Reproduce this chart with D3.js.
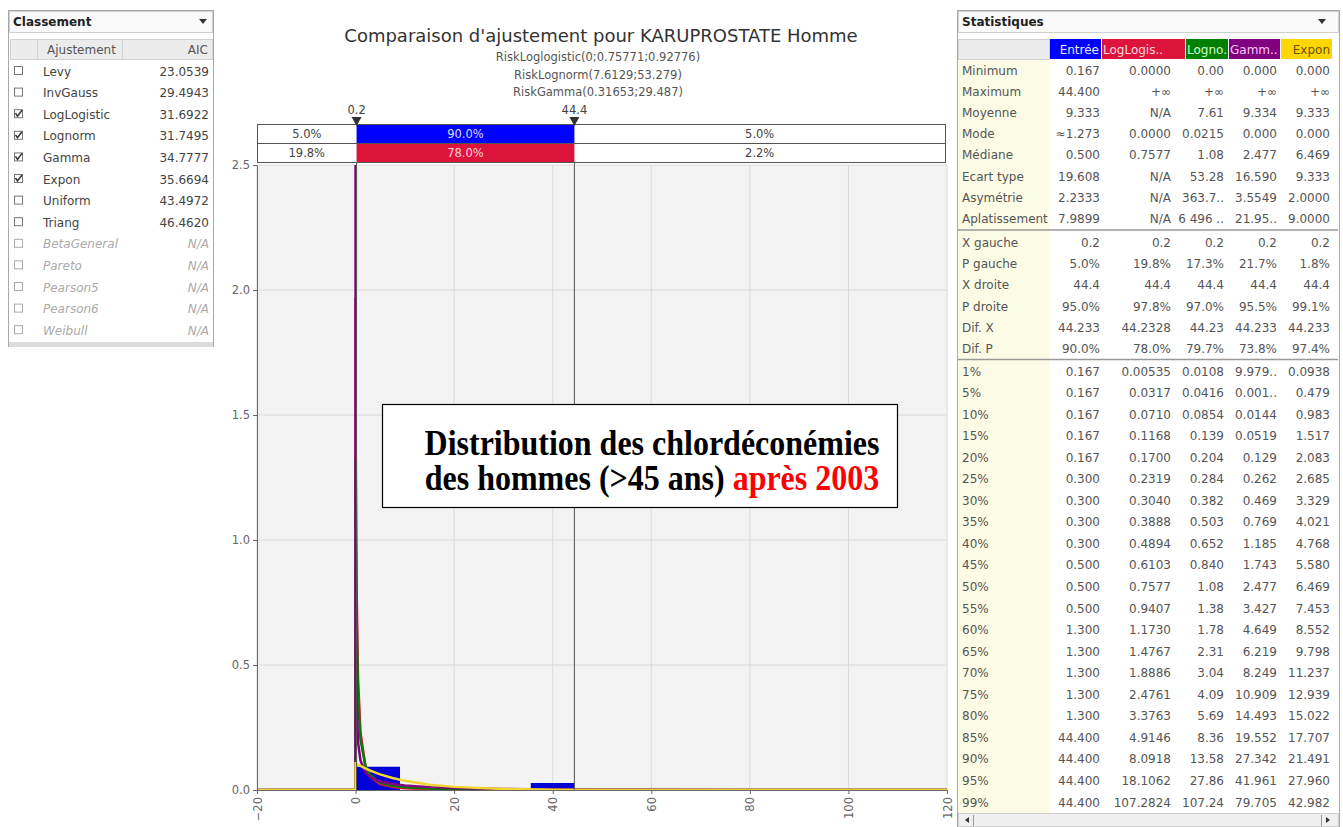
<!DOCTYPE html>
<html>
<head>
<meta charset="utf-8">
<script src="https://cdn.jsdelivr.net/npm/d3@7"></script>
<style>
  body { margin: 0; background: #fff; }
  svg { display: block; }
  text { font-family: "DejaVu Sans", sans-serif; }
  text.note { font-family: "Liberation Serif", "Times New Roman", serif; }
</style>
</head>
<body>
<div id="chart"></div>
<script>
// ---------------------------------------------------------------
// Values
// ---------------------------------------------------------------

// Left panel: ranking of the fitted distributions
var fitNames = ["Levy", "InvGauss", "LogLogistic", "Lognorm", "Gamma", "Expon", "Uniform",
                "Triang", "BetaGeneral", "Pareto", "Pearson5", "Pearson6", "Weibull"];
var fitAIC = ["23.0539", "29.4943", "31.6922", "31.7495", "34.7777", "35.6694", "43.4972",
              "46.4620", "N/A", "N/A", "N/A", "N/A", "N/A"];
var fitChecked = [false, false, true, true, true, true, false, false, false, false, false, false, false];
var fitValid = [true, true, true, true, true, true, true, true, false, false, false, false, false];

// Chart titles
var chartTitle = "Comparaison d'ajustement pour KARUPROSTATE Homme";
var chartSubtitles = ["RiskLoglogistic(0;0.75771;0.92776)", "RiskLognorm(7.6129;53.279)", "RiskGamma(0.31653;29.487)"];

// Delimiters and the probabilities between them
var delimLeft = 0.2;
var delimRight = 44.4;
var inputPct = ["5.0%", "90.0%", "5.0%"];
var fitPct = ["19.8%", "78.0%", "2.2%"];

// Axis ticks
var xTicks = [-20, 0, 20, 40, 60, 80, 100, 120];
var yTicks = [0, 0.5, 1.0, 1.5, 2.0, 2.5];

// Histogram of the input data (density)
var histEdges = [0.167, 9.013, 17.860, 26.707, 35.553, 44.4];
var histDensity = [0.093, 0, 0, 0, 0.028];

// Fitted densities at these x positions
var curveX = [-20, 0, 0.001, 0.005, 0.01, 0.02, 0.05, 0.1, 0.2, 0.5, 1, 2, 3, 5, 7.5, 10,
              15, 20, 30, 40, 60, 80, 100, 120];
var loglogisticY = [0, 0, 1.97, 1.73, 1.62, 1.49, 1.28, 1.07, 0.81, 0.447, 0.228, 0.0953, 0.0527,
                    0.0234, 0.0118, 0.0071, 0.0034, 0.002, 0.00096, 0.00056, 0.00026, 0.00015, 0.0001, 0.00007];
var lognormY = [0, 0, 0.397, 1.008, 1.228, 1.323, 1.21, 0.98, 0.702, 0.374, 0.2016, 0.096, 0.0588,
                0.0298, 0.0166, 0.0107, 0.0055, 0.0034, 0.0016, 0.00095, 0.00043, 0.00024, 0.00015, 0.0001];
var gammaY = [0, 0, 13.6, 4.52, 2.82, 1.755, 0.937, 0.584, 0.363, 0.191, 0.117, 0.0705, 0.0516,
              0.034, 0.0237, 0.0179, 0.0115, 0.0079, 0.0043, 0.0025, 0.00097, 0.0004, 0.00018, 0.00008];
var exponY = [0, 0, 0.107, 0.107, 0.107, 0.107, 0.107, 0.106, 0.105, 0.1015, 0.0962, 0.0863, 0.0775,
              0.0626, 0.0481, 0.0366, 0.0214, 0.0125, 0.0043, 0.0015, 0.00017, 0.00002, 0, 0];

// Annotation box
var noteLine1 = "Distribution des chlordéconémies";
var noteLine2a = "des hommes (>45 ans) ";
var noteLine2b = "après 2003";

// Right panel: statistics table
var statCols = ["Entrée", "LogLogis..", "Logno..", "Gamm..", "Expon"];
var statLabels = ["Minimum", "Maximum", "Moyenne", "Mode", "Médiane", "Ecart type", "Asymétrie", "Aplatissement"];
var statValues = [
  ["0.167", "0.0000", "0.00", "0.000", "0.000"],
  ["44.400", "+∞", "+∞", "+∞", "+∞"],
  ["9.333", "N/A", "7.61", "9.334", "9.333"],
  ["≈1.273", "0.0000", "0.0215", "0.000", "0.000"],
  ["0.500", "0.7577", "1.08", "2.477", "6.469"],
  ["19.608", "N/A", "53.28", "16.590", "9.333"],
  ["2.2333", "N/A", "363.7..", "3.5549", "2.0000"],
  ["7.9899", "N/A", "6 496 ..", "21.95..", "9.0000"]
];
var delimLabels = ["X gauche", "P gauche", "X droite", "P droite", "Dif. X", "Dif. P"];
var delimValues = [
  ["0.2", "0.2", "0.2", "0.2", "0.2"],
  ["5.0%", "19.8%", "17.3%", "21.7%", "1.8%"],
  ["44.4", "44.4", "44.4", "44.4", "44.4"],
  ["95.0%", "97.8%", "97.0%", "95.5%", "99.1%"],
  ["44.233", "44.2328", "44.23", "44.233", "44.233"],
  ["90.0%", "78.0%", "79.7%", "73.8%", "97.4%"]
];
var pctLabels = ["1%", "5%", "10%", "15%", "20%", "25%", "30%", "35%", "40%", "45%", "50%",
                 "55%", "60%", "65%", "70%", "75%", "80%", "85%", "90%", "95%", "99%"];
var pctValues = [
  ["0.167", "0.00535", "0.0108", "9.979..", "0.0938"],
  ["0.167", "0.0317", "0.0416", "0.001..", "0.479"],
  ["0.167", "0.0710", "0.0854", "0.0144", "0.983"],
  ["0.167", "0.1168", "0.139", "0.0519", "1.517"],
  ["0.167", "0.1700", "0.204", "0.129", "2.083"],
  ["0.300", "0.2319", "0.284", "0.262", "2.685"],
  ["0.300", "0.3040", "0.382", "0.469", "3.329"],
  ["0.300", "0.3888", "0.503", "0.769", "4.021"],
  ["0.300", "0.4894", "0.652", "1.185", "4.768"],
  ["0.500", "0.6103", "0.840", "1.743", "5.580"],
  ["0.500", "0.7577", "1.08", "2.477", "6.469"],
  ["0.500", "0.9407", "1.38", "3.427", "7.453"],
  ["1.300", "1.1730", "1.78", "4.649", "8.552"],
  ["1.300", "1.4767", "2.31", "6.219", "9.798"],
  ["1.300", "1.8886", "3.04", "8.249", "11.237"],
  ["1.300", "2.4761", "4.09", "10.909", "12.939"],
  ["1.300", "3.3763", "5.69", "14.493", "15.022"],
  ["44.400", "4.9146", "8.36", "19.552", "17.707"],
  ["44.400", "8.0918", "13.58", "27.342", "21.491"],
  ["44.400", "18.1062", "27.86", "41.961", "27.960"],
  ["44.400", "107.2824", "107.24", "79.705", "42.982"]
];

// ---------------------------------------------------------------
// Drawing
// ---------------------------------------------------------------
var svgWidth = 1343;
var svgHeight = 827;

var svg = d3.select("#chart").append("svg")
  .attr("width", svgWidth)
  .attr("height", svgHeight);

svg.append("rect")
  .attr("width", svgWidth)
  .attr("height", svgHeight)
  .attr("fill", "#fff");

// Small helper for the little dropdown arrows in the panel headers
function dropArrow(g, cx, cy) {
  g.append("path")
    .attr("d", `M${cx - 4},${cy - 2} L${cx + 4},${cy - 2} L${cx},${cy + 3} Z`)
    .attr("fill", "#333");
}

// ---------------- Left panel (Classement) ----------------
var left = svg.append("g");

left.append("rect")
  .attr("x", 8.5).attr("y", 10.5)
  .attr("width", 205).attr("height", 336)
  .attr("fill", "#fff")
  .attr("stroke", "#a8a8a8");

left.append("rect")
  .attr("x", 9.5).attr("y", 11.5)
  .attr("width", 203).attr("height", 21)
  .attr("fill", "#fafafa")
  .attr("stroke", "#cfcfcf");

left.append("text")
  .attr("x", 13).attr("y", 26)
  .attr("font-size", 12)
  .attr("font-weight", "bold")
  .attr("fill", "#222")
  .text("Classement");

dropArrow(left, 203, 21);

// column header cells
[[10, 37], [37, 122], [122, 212]].forEach(function(c) {
  left.append("rect")
    .attr("x", c[0] + 0.5).attr("y", 39.5)
    .attr("width", c[1] - c[0]).attr("height", 20)
    .attr("fill", "#ececec")
    .attr("stroke", "#d2d2d2");
});

left.append("text")
  .attr("x", 47).attr("y", 54)
  .attr("font-size", 12)
  .attr("fill", "#555")
  .text("Ajustement");

left.append("text")
  .attr("x", 208).attr("y", 54)
  .attr("font-size", 12)
  .attr("text-anchor", "end")
  .attr("fill", "#555")
  .text("AIC");

var fitRows = left.selectAll(".fitRow")
  .data(fitNames)
  .enter()
  .append("g")
  .classed("fitRow", true)
  .attr("transform", (d, i) => `translate(0, ${71 + i * 21.6})`);

fitRows.append("rect")
  .attr("x", 14.5).attr("y", -4.5)
  .attr("width", 8).attr("height", 8)
  .attr("fill", "#fff")
  .attr("stroke", (d, i) => fitValid[i] ? "#777" : "#aaa");

fitRows.filter((d, i) => fitChecked[i])
  .append("path")
  .attr("d", "M15.5,-1 L17.5,2 L22,-4")
  .attr("fill", "none")
  .attr("stroke", "#333")
  .attr("stroke-width", 1.5);

fitRows.append("text")
  .attr("x", 43).attr("y", 4.5)
  .attr("font-size", 12)
  .attr("font-style", (d, i) => fitValid[i] ? "normal" : "italic")
  .attr("fill", (d, i) => fitValid[i] ? "#444" : "#aaa")
  .text(d => d);

fitRows.append("text")
  .attr("x", 209).attr("y", 4.5)
  .attr("font-size", 12)
  .attr("text-anchor", "end")
  .attr("font-style", (d, i) => fitValid[i] ? "normal" : "italic")
  .attr("fill", (d, i) => fitValid[i] ? "#444" : "#aaa")
  .text((d, i) => fitAIC[i]);

left.append("rect")
  .attr("x", 9).attr("y", 342)
  .attr("width", 204).attr("height", 5)
  .attr("fill", "#dcdcdc");

// ---------------- Chart ----------------
var chart = svg.append("g");

var x = d3.scaleLinear().domain([-20, 120]).range([257, 947]);
var y = d3.scaleLinear().domain([0, 2.5]).range([790, 165]);

// titles
chart.append("text")
  .attr("x", 601).attr("y", 42)
  .attr("text-anchor", "middle")
  .attr("font-size", 18)
  .attr("fill", "#333")
  .text(chartTitle);

chart.selectAll(".subtitle")
  .data(chartSubtitles)
  .enter()
  .append("text")
  .classed("subtitle", true)
  .attr("x", 598)
  .attr("y", (d, i) => 61 + i * 17.5)
  .attr("text-anchor", "middle")
  .attr("font-size", 11.5)
  .attr("fill", "#555")
  .text(d => d);

// plot background
chart.append("rect")
  .attr("x", x(-20)).attr("y", y(2.5))
  .attr("width", x(120) - x(-20))
  .attr("height", y(0) - y(2.5))
  .attr("fill", "#f3f3f3");

// grid lines
chart.selectAll(".xgrid")
  .data(xTicks)
  .enter()
  .append("line")
  .attr("x1", d => x(d)).attr("x2", d => x(d))
  .attr("y1", y(2.5)).attr("y2", y(0))
  .attr("stroke", "#dadada");

chart.selectAll(".ygrid")
  .data(yTicks)
  .enter()
  .append("line")
  .attr("x1", x(-20)).attr("x2", x(120))
  .attr("y1", d => y(d)).attr("y2", d => y(d))
  .attr("stroke", "#dadada");

// clip region for the marks
svg.append("clipPath")
  .attr("id", "plotClip")
  .append("rect")
  .attr("x", x(-20)).attr("y", y(2.5))
  .attr("width", x(120) - x(-20))
  .attr("height", y(0) - y(2.5) + 1);

var plot = chart.append("g").attr("clip-path", "url(#plotClip)");

// histogram bars
plot.selectAll(".histBar")
  .data(histDensity)
  .enter()
  .append("rect")
  .classed("histBar", true)
  .attr("x", (d, i) => x(histEdges[i]))
  .attr("width", (d, i) => x(histEdges[i + 1]) - x(histEdges[i]))
  .attr("y", d => y(d))
  .attr("height", d => y(0) - y(d))
  .attr("fill", "#0000d8");

// fitted curves
var curves = [
  { values: loglogisticY, color: "#dc143c" },
  { values: lognormY, color: "#008000" },
  { values: gammaY, color: "#800080" },
  { values: exponY, color: "#f2d630" }
];

var line = d3.line()
  .x((d, i) => x(curveX[i]))
  .y(d => y(Math.min(d, 3)));

plot.selectAll(".curve")
  .data(curves)
  .enter()
  .append("path")
  .classed("curve", true)
  .attr("d", d => line(d.values))
  .attr("fill", "none")
  .attr("stroke", d => d.color)
  .attr("stroke-width", 2.5);

// axes
var yAxis = d3.axisLeft(y)
  .tickValues(yTicks)
  .tickFormat(d3.format(".1f"))
  .tickSize(4);

var xAxis = d3.axisBottom(x)
  .tickValues(xTicks)
  .tickSize(4);

var yAxisG = chart.append("g")
  .attr("transform", `translate(${x(-20)},0)`)
  .call(yAxis);

var xAxisG = chart.append("g")
  .attr("transform", `translate(0,${y(0)})`)
  .call(xAxis);

[yAxisG, xAxisG].forEach(function(g) {
  g.select(".domain").attr("stroke", "#666");
  g.selectAll(".tick line").attr("stroke", "#666");
  g.selectAll(".tick text")
    .attr("fill", "#666")
    .attr("font-size", 11.5);
});

yAxisG.selectAll(".tick text").attr("x", -7);

xAxisG.selectAll(".tick text")
  .attr("text-anchor", "end")
  .attr("transform", "rotate(-90)")
  .attr("x", -7)
  .attr("y", 0)
  .attr("dy", "0.35em");

// delimiter bars above the plot
var barRows = [inputPct, fitPct];
var barColors = ["#0000ff", "#dc143c"];
var barTextColors = ["#dcdcff", "#ffd0da"];
var barRight = x(120) - 2;

barRows.forEach(function(row, r) {
  var y0 = 124 + r * 19;
  chart.append("rect")
    .attr("x", x(-20) + 0.5).attr("y", y0 + 0.5)
    .attr("width", barRight - x(-20)).attr("height", 19)
    .attr("fill", "#fff")
    .attr("stroke", "#555");
  chart.append("rect")
    .attr("x", x(delimLeft)).attr("y", y0 + 1)
    .attr("width", x(delimRight) - x(delimLeft)).attr("height", 18)
    .attr("fill", barColors[r]);
  var centers = [(x(-20) + x(delimLeft)) / 2, (x(delimLeft) + x(delimRight)) / 2, (x(delimRight) + barRight) / 2];
  row.forEach(function(t, k) {
    chart.append("text")
      .attr("x", centers[k]).attr("y", y0 + 14)
      .attr("text-anchor", "middle")
      .attr("font-size", 11.5)
      .attr("fill", k === 1 ? barTextColors[r] : "#444")
      .text(t);
  });
});

// delimiter lines, markers and labels
[delimLeft, delimRight].forEach(function(v) {
  chart.append("line")
    .attr("x1", x(v)).attr("x2", x(v))
    .attr("y1", 162).attr("y2", y(0))
    .attr("stroke", "#555")
    .attr("stroke-width", 1);
  chart.append("path")
    .attr("d", `M${x(v) - 5},117 L${x(v) + 5},117 L${x(v)},126 Z`)
    .attr("fill", "#333");
  chart.append("text")
    .attr("x", x(v)).attr("y", 114)
    .attr("text-anchor", "middle")
    .attr("font-size", 11.5)
    .attr("fill", "#444")
    .text(v);
});

// annotation box
chart.append("rect")
  .attr("x", 382.5).attr("y", 404.5)
  .attr("width", 515).attr("height", 103)
  .attr("fill", "#fff")
  .attr("stroke", "#000")
  .attr("stroke-width", 1.2);

var noteStyle = function(t) {
  t.classed("note", true)
    .attr("text-anchor", "middle")
    .attr("font-weight", "bold")
    .attr("font-size", 32)
    .attr("fill", "#000");
};

chart.append("text")
  .attr("transform", "translate(652,455) scale(1,1.15)")
  .call(noteStyle)
  .text(noteLine1);

var note2 = chart.append("text")
  .attr("transform", "translate(652,490) scale(1,1.15)")
  .call(noteStyle);
note2.append("tspan").text(noteLine2a);
note2.append("tspan").attr("fill", "#ff0000").text(noteLine2b);

// ---------------- Right panel (Statistiques) ----------------
var right = svg.append("g");

var colLeft = [1050, 1102, 1186, 1229, 1281];
var colRight = [1101, 1185, 1228, 1280, 1332];
var valueRight = [1100, 1171, 1224, 1277, 1330];
var headBg = ["#0000ff", "#dc143c", "#008000", "#800080", "#ffd700"];
var headFg = ["#e6e6ff", "#ffd6de", "#d0ffd0", "#ffc8ff", "#6a5400"];
var headAnchorEnd = [true, false, false, false, true];

right.append("rect")
  .attr("x", 957.5).attr("y", 10.5)
  .attr("width", 382).attr("height", 816)
  .attr("fill", "#fff")
  .attr("stroke", "#a8a8a8");

right.append("rect")
  .attr("x", 958.5).attr("y", 11.5)
  .attr("width", 380).attr("height", 21)
  .attr("fill", "#fafafa")
  .attr("stroke", "#cfcfcf");

right.append("text")
  .attr("x", 962).attr("y", 26)
  .attr("font-size", 12)
  .attr("font-weight", "bold")
  .attr("fill", "#222")
  .text("Statistiques");

dropArrow(right, 1322, 21);

// label column background
right.append("rect")
  .attr("x", 958).attr("y", 60)
  .attr("width", 91).attr("height", 753)
  .attr("fill", "#fcfce6");

right.append("rect")
  .attr("x", 958.5).attr("y", 39.5)
  .attr("width", 91).attr("height", 20)
  .attr("fill", "#ececec")
  .attr("stroke", "#d2d2d2");

statCols.forEach(function(c, k) {
  right.append("rect")
    .attr("x", colLeft[k]).attr("y", 39)
    .attr("width", colRight[k] - colLeft[k]).attr("height", 20)
    .attr("fill", headBg[k]);
  right.append("text")
    .attr("x", headAnchorEnd[k] ? colRight[k] - 2 : colLeft[k] + 1)
    .attr("y", 54)
    .attr("text-anchor", headAnchorEnd[k] ? "end" : "start")
    .attr("font-size", 12)
    .attr("fill", headFg[k])
    .text(c);
});

function drawBlock(labels, values, top, step) {
  var rows = right.selectAll(null)
    .data(labels)
    .enter()
    .append("g")
    .attr("transform", (d, i) => `translate(0, ${top + i * step})`);
  rows.append("text")
    .attr("x", 962).attr("y", 4.5)
    .attr("font-size", 12)
    .attr("fill", "#555")
    .text(d => d);
  rows.each(function(d, i) {
    var g = d3.select(this);
    values[i].forEach(function(v, k) {
      g.append("text")
        .attr("x", valueRight[k]).attr("y", 4.5)
        .attr("text-anchor", "end")
        .attr("font-size", 12)
        .attr("fill", "#555")
        .text(v);
    });
  });
}

drawBlock(statLabels, statValues, 70, 21.2);
drawBlock(delimLabels, delimValues, 242.5, 21.2);
drawBlock(pctLabels, pctValues, 371, 21.55);

// block separators
[230, 359.5].forEach(function(sy) {
  right.append("line")
    .attr("x1", 958).attr("x2", 1338)
    .attr("y1", sy).attr("y2", sy)
    .attr("stroke", "#999")
    .attr("stroke-width", 1.5);
});

// horizontal scrollbar
right.append("rect")
  .attr("x", 958.5).attr("y", 813.5)
  .attr("width", 380).attr("height", 13)
  .attr("fill", "#f0f0f0")
  .attr("stroke", "#cfcfcf");
right.append("path").attr("d", "M965,820 L969,817 L969,823 Z").attr("fill", "#333");
right.append("path").attr("d", "M1330,820 L1326,817 L1326,823 Z").attr("fill", "#333");
right.append("line").attr("x1", 973.5).attr("x2", 973.5).attr("y1", 815).attr("y2", 826).attr("stroke", "#999");
right.append("line").attr("x1", 1321.5).attr("x2", 1321.5).attr("y1", 815).attr("y2", 826).attr("stroke", "#999");
</script>
</body>
</html>
